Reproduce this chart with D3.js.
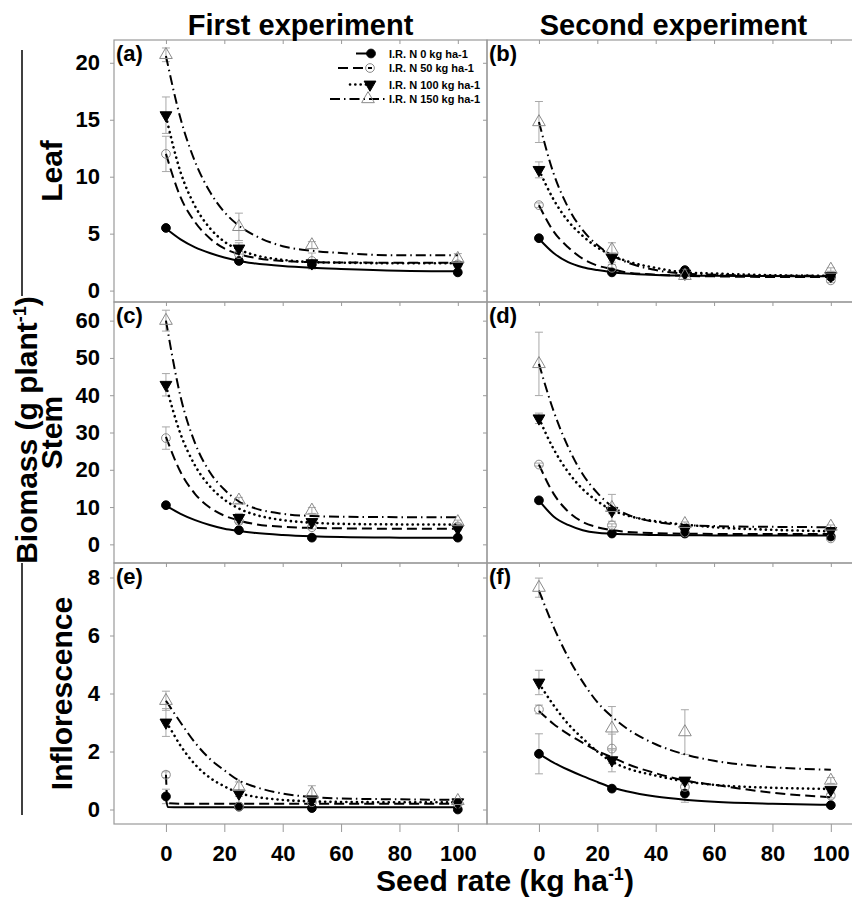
<!DOCTYPE html>
<html>
<head>
<meta charset="utf-8">
<script src="https://cdnjs.cloudflare.com/ajax/libs/d3/7.8.5/d3.min.js"></script>
<style>
body{margin:0;background:#fff}
svg text{font-family:"Liberation Sans",Arial,sans-serif;font-weight:bold;fill:#000}
</style>
</head>
<body>
<svg id="chart" width="852" height="898"></svg>
<script>
// ---- data ----
const seedRate = [0, 25, 50, 100];
const curveX = [0, 5, 10, 15, 20, 25, 30, 40, 50, 60, 80, 100];
const curveXSteep = [0, 0.6, 5, 10, 15, 20, 25, 30, 40, 50, 60, 80, 100];
const seriesNames = ["I.R. N 0 kg ha-1", "I.R. N 50 kg ha-1", "I.R. N 100 kg ha-1", "I.R. N 150 kg ha-1"];
const xTicks = [0, 20, 40, 60, 80, 100];
const leafTicks = [0, 5, 10, 15, 20];
const stemTicks = [0, 10, 20, 30, 40, 50, 60];
const infloTicks = [0, 2, 4, 6, 8];
const colTitles = ["First experiment", "Second experiment"];
const rowTitles = ["Leaf", "Stem", "Inflorescence"];
const panelLetters = ["(a)", "(b)", "(c)", "(d)", "(e)", "(f)"];

// (a) leaf, first experiment   rows: N0, N50, N100, N150
const leaf1Mean = [[5.5, 2.6, 2.3, 1.6], [12.0, 3.2, 2.6, 2.3], [15.4, 3.7, 2.4, 2.2], [20.7, 5.6, 4.0, 2.8]];
const leaf1Err = [[0.15, 0.15, 0.3, 0.15], [1.55, 0.3, 0.7, 0.2], [1.6, 0.5, 0.3, 0.2], [0.6, 1.2, 0.3, 0.45]];
const leaf1Fit = [
  [5.45, 4.5, 3.8, 3.3, 2.9, 2.6, 2.4, 2.15, 2.0, 1.9, 1.75, 1.7],
  [12.0, 8.2, 6.0, 4.6, 3.7, 3.2, 2.9, 2.6, 2.5, 2.47, 2.45, 2.45],
  [15.3, 10.4, 7.4, 5.5, 4.3, 3.6, 3.15, 2.7, 2.5, 2.45, 2.4, 2.4],
  [20.6, 15.1, 11.3, 8.7, 6.9, 5.7, 4.9, 3.9, 3.5, 3.3, 3.1, 3.1]];

// (b) leaf, second experiment
const leaf2Mean = [[4.6, 1.6, 1.8, 1.2], [7.5, 2.0, 1.5, 0.9], [10.6, 2.9, 1.5, 1.3], [14.8, 3.6, 1.3, 1.85]];
const leaf2Err = [[0.15, 0.1, 0.15, 0.1], [0.2, 0.3, 0.2, 0.2], [0.7, 0.4, 0.2, 0.1], [1.8, 0.6, 0.3, 0.15]];
const leaf2Fit = [
  [4.55, 3.3, 2.5, 2.05, 1.8, 1.62, 1.5, 1.38, 1.32, 1.3, 1.28, 1.25],
  [7.5, 5.2, 3.8, 2.8, 2.2, 1.9, 1.6, 1.4, 1.3, 1.25, 1.2, 1.2],
  [10.6, 8.0, 6.1, 4.8, 3.8, 3.1, 2.6, 2.0, 1.6, 1.5, 1.35, 1.3],
  [14.8, 10.3, 7.3, 5.3, 4.0, 3.1, 2.5, 1.8, 1.5, 1.4, 1.3, 1.3]];

// (c) stem, first experiment
const stem1Mean = [[10.5, 3.8, 1.8, 1.8], [28.5, 6.3, 4.6, 4.8], [42.8, 7.1, 6.0, 4.2], [60.0, 11.8, 9.1, 6.0]];
const stem1Err = [[0.3, 0.3, 0.2, 0.2], [3.0, 0.8, 0.5, 0.5], [3.0, 1.2, 0.6, 0.4], [2.8, 0.8, 0.8, 0.5]];
const stem1Fit = [
  [10.4, 8.2, 6.5, 5.2, 4.2, 3.6, 3.1, 2.5, 2.15, 1.95, 1.8, 1.75],
  [28.8, 19.4, 13.5, 9.9, 7.7, 6.4, 5.5, 4.7, 4.4, 4.3, 4.2, 4.2],
  [42.6, 29.6, 21.1, 15.6, 12.0, 9.6, 8.1, 6.5, 5.8, 5.5, 5.35, 5.3],
  [60.0, 39.6, 27.1, 19.4, 14.7, 11.5, 9.8, 8.2, 7.6, 7.4, 7.3, 7.3]];

// (d) stem, second experiment
const stem2Mean = [[11.8, 2.9, 2.9, 2.1], [21.4, 5.1, 3.2, 1.6], [33.8, 9.0, 3.9, 3.6], [48.4, 9.8, 5.5, 4.8]];
const stem2Err = [[0.6, 0.2, 0.2, 0.2], [0.4, 0.4, 0.3, 0.3], [1.4, 0.8, 0.4, 0.4], [8.5, 3.6, 0.5, 0.4]];
const stem2Fit = [
  [11.8, 7.5, 5.2, 3.8, 3.1, 2.85, 2.7, 2.5, 2.45, 2.4, 2.4, 2.4],
  [21.4, 13.6, 8.8, 6.0, 4.6, 3.8, 3.35, 3.0, 2.85, 2.8, 2.75, 2.75],
  [33.8, 25.6, 19.4, 14.8, 11.6, 9.2, 7.8, 6.2, 5.3, 4.6, 3.9, 3.5],
  [48.4, 35.8, 26.1, 18.8, 13.8, 10.2, 8.1, 6.0, 5.2, 4.9, 4.7, 4.6]];

// (e) inflorescence, first experiment (fits on curveXSteep)
const inflo1Mean = [[0.45, 0.1, 0.05, 0.0], [1.2, 0.1, 0.25, 0.2], [3.0, 0.55, 0.35, 0.25], [3.75, 0.78, 0.55, 0.3]];
const inflo1Err = [[0.25, 0.05, 0.05, 0.05], [0.1, 0.05, 0.1, 0.05], [0.48, 0.1, 0.1, 0.05], [0.33, 0.17, 0.27, 0.05]];
const inflo1Fit = [
  [0.43, 0.09, 0.08, 0.08, 0.08, 0.08, 0.08, 0.08, 0.08, 0.08, 0.08, 0.08, 0.08],
  [1.2, 0.22, 0.2, 0.2, 0.2, 0.2, 0.2, 0.2, 0.2, 0.2, 0.2, 0.2, 0.2],
  [3.0, 2.92, 2.2, 1.55, 1.1, 0.8, 0.57, 0.45, 0.33, 0.28, 0.26, 0.25, 0.25],
  [3.75, 3.66, 3.0, 2.3, 1.75, 1.35, 1.0, 0.8, 0.55, 0.43, 0.38, 0.35, 0.33]];

// (f) inflorescence, second experiment
const inflo2Mean = [[1.92, 0.72, 0.55, 0.15], [3.45, 2.1, 0.78, 0.48], [4.38, 1.7, 1.0, 0.68], [7.65, 2.8, 2.67, 1.0]];
const inflo2Err = [[0.69, 0.08, 0.3, 0.05], [0.15, 0.5, 0.15, 0.08], [0.42, 0.4, 0.1, 0.08], [0.33, 0.75, 0.77, 0.1]];
const inflo2Fit = [
  [1.92, 1.62, 1.37, 1.15, 0.95, 0.76, 0.63, 0.45, 0.34, 0.27, 0.2, 0.16],
  [3.4, 2.95, 2.6, 2.3, 2.02, 1.8, 1.58, 1.25, 1.0, 0.85, 0.58, 0.42],
  [4.35, 3.6, 2.95, 2.45, 2.0, 1.65, 1.43, 1.17, 0.97, 0.85, 0.75, 0.71],
  [7.55, 6.3, 5.25, 4.4, 3.7, 3.2, 2.8, 2.25, 1.9, 1.68, 1.46, 1.37]];

// ---- layout ----
const colX = [[114, 487], [487, 860]];
const rowY = [[40, 302], [302, 563], [563, 824]];
const xDomain = [-17.8, 110];
const yDomains = [[-1, 22], [-5, 65], [-0.5, 8.5]];
const yTickSets = [leafTicks, stemTicks, infloTicks];
const axisGrey = "#9a9a9a";

const panels = [
  {r: 0, c: 0, mean: leaf1Mean, err: leaf1Err, fit: leaf1Fit, fx: curveX},
  {r: 0, c: 1, mean: leaf2Mean, err: leaf2Err, fit: leaf2Fit, fx: curveX},
  {r: 1, c: 0, mean: stem1Mean, err: stem1Err, fit: stem1Fit, fx: curveX},
  {r: 1, c: 1, mean: stem2Mean, err: stem2Err, fit: stem2Fit, fx: curveX},
  {r: 2, c: 0, mean: inflo1Mean, err: inflo1Err, fit: inflo1Fit, fx: curveXSteep},
  {r: 2, c: 1, mean: inflo2Mean, err: inflo2Err, fit: inflo2Fit, fx: curveX}
];

// line style per series
const dashes = [null, "10,5", "0.1,5.2", "10,4,1.5,4"];
const widths = [2, 2, 2.6, 2];
const caps = ["butt", "butt", "round", "butt"];

const svg = d3.select("#chart");
svg.append("rect").attr("width", 852).attr("height", 898).attr("fill", "#fff");

function marker(sel, k) {
  if (k === 0) {
    sel.attr("d", d3.symbol(d3.symbolCircle, 60)()).attr("fill", "#000").attr("stroke", "#000");
  } else if (k === 1) {
    sel.attr("d", d3.symbol(d3.symbolCircle, 60)()).attr("fill", "none").attr("stroke", "#8a8a8a").attr("stroke-width", 1);
  } else if (k === 2) {
    sel.attr("d", d3.symbol(d3.symbolTriangle, 60)()).attr("fill", "#000").attr("stroke", "#000");
  } else {
    sel.attr("d", d3.symbol(d3.symbolTriangle, 70)()).attr("fill", "none").attr("stroke", "#8a8a8a").attr("stroke-width", 1);
  }
}

panels.forEach((p, i) => {
  const x = d3.scaleLinear().domain(xDomain).range(colX[p.c]);
  const y = d3.scaleLinear().domain(yDomains[p.r]).range([rowY[p.r][1], rowY[p.r][0]]);
  const g = svg.append("g");

  // frame
  g.append("rect").attr("x", colX[p.c][0]).attr("y", rowY[p.r][0])
    .attr("width", colX[p.c][1] - colX[p.c][0]).attr("height", rowY[p.r][1] - rowY[p.r][0])
    .attr("fill", "none").attr("stroke", axisGrey).attr("stroke-width", 1.2);

  // y axis
  const ya = g.append("g").attr("transform", `translate(${colX[p.c][0]},0)`)
    .call(d3.axisLeft(y).tickValues(yTickSets[p.r]).tickSize(4).tickPadding(10)
      .tickFormat(p.c === 0 ? d3.format("d") : () => ""));
  ya.select(".domain").remove();
  ya.selectAll("line").attr("stroke", axisGrey);
  ya.selectAll("text").style("font-size", "22px").attr("fill", "#000");

  // top ticks (inward)
  const ta = g.append("g").attr("transform", `translate(0,${rowY[p.r][0]})`)
    .call(d3.axisBottom(x).tickValues(xTicks).tickSize(4).tickFormat(""));
  ta.select(".domain").remove();
  ta.selectAll("line").attr("stroke", axisGrey);

  // bottom axis with labels on the last row
  if (p.r === 2) {
    const ba = g.append("g").attr("transform", `translate(0,${rowY[p.r][1]})`)
      .call(d3.axisBottom(x).tickValues(xTicks).tickSize(8).tickPadding(13));
    ba.select(".domain").remove();
    ba.selectAll("line").attr("stroke", axisGrey);
    ba.selectAll("text").style("font-size", "22px").attr("fill", "#000");
  }

  // error bars
  p.err.forEach((errs, k) => {
    errs.forEach((e, j) => {
      const cx = x(seedRate[j]);
      const m = p.mean[k][j];
      const eg = g.append("g").attr("stroke", "#a8a8a8").attr("stroke-width", 1);
      eg.append("line").attr("x1", cx).attr("x2", cx).attr("y1", y(m - e)).attr("y2", y(m + e));
      eg.append("line").attr("x1", cx - 4).attr("x2", cx + 4).attr("y1", y(m - e)).attr("y2", y(m - e));
      eg.append("line").attr("x1", cx - 4).attr("x2", cx + 4).attr("y1", y(m + e)).attr("y2", y(m + e));
    });
  });

  // fitted curves
  const line = d3.line().x(d => x(d[0])).y(d => y(d[1])).curve(d3.curveMonotoneX);
  p.fit.forEach((vals, k) => {
    g.append("path").datum(vals.map((v, j) => [p.fx[j], v]))
      .attr("d", line).attr("fill", "none").attr("stroke", "#000")
      .attr("stroke-width", widths[k]).attr("stroke-dasharray", dashes[k])
      .attr("stroke-linecap", caps[k]);
  });

  // markers
  p.mean.forEach((vals, k) => {
    vals.forEach((v, j) => {
      const rot = k === 2 ? 180 : 0;
      g.append("path").call(marker, k)
        .attr("transform", `translate(${x(seedRate[j])},${y(v)}) rotate(${rot})`);
    });
  });

  // panel letter
  g.append("text").attr("x", colX[p.c][0] + 2).attr("y", rowY[p.r][0] + 21)
    .style("font-size", "22px").text(panelLetters[i]);
});

// legend inside (a)
const legRows = [53.5, 68, 84.5, 99];
const legLineStart = [356, 338, 350, 330];
const legLineEnd = [372, 372, 370, 386];
const legMarkX = [371, 370, 370, 368];
seriesNames.forEach((name, k) => {
  const yy = legRows[k];
  svg.append("line").attr("x1", legLineStart[k]).attr("x2", legLineEnd[k]).attr("y1", yy).attr("y2", yy)
    .attr("stroke", "#000").attr("stroke-width", widths[k]).attr("stroke-dasharray", dashes[k])
    .attr("stroke-linecap", caps[k]);
  svg.append("path").call(marker, k)
    .attr("transform", `translate(${legMarkX[k]},${yy}) rotate(${k === 2 ? 180 : 0})`);
  svg.append("text").attr("x", 389).attr("y", yy + 4).style("font-size", "11px").text(name);
});

// column titles
colTitles.forEach((t, c) => {
  svg.append("text").attr("x", (colX[c][0] + colX[c][1]) / 2).attr("y", 35)
    .attr("text-anchor", "middle").style("font-size", "29px").text(t);
});

// row titles
const rowTitleX = [62, 62, 72];
rowTitles.forEach((t, r) => {
  const cy = (rowY[r][0] + rowY[r][1]) / 2;
  svg.append("text").attr("transform", `translate(${rowTitleX[r]},${cy}) rotate(-90)`)
    .attr("text-anchor", "middle").style("font-size", "30px").text(t);
});

// common y label with bracket lines
const yl = svg.append("text").attr("transform", "translate(37,430) rotate(-90)")
  .attr("text-anchor", "middle").style("font-size", "30px");
yl.append("tspan").text("Biomass (g plant");
yl.append("tspan").attr("dy", -11).style("font-size", "18px").text("-1");
yl.append("tspan").attr("dy", 11).text(")");
svg.append("line").attr("x1", 22).attr("x2", 22).attr("y1", 50).attr("y2", 296).attr("stroke", "#000").attr("stroke-width", 1.5);
svg.append("line").attr("x1", 22).attr("x2", 22).attr("y1", 563).attr("y2", 815).attr("stroke", "#000").attr("stroke-width", 1.5);

// x label
const xl = svg.append("text").attr("x", 505).attr("y", 891).attr("text-anchor", "middle").style("font-size", "30px");
xl.append("tspan").text("Seed rate (kg ha");
xl.append("tspan").attr("dy", -11).style("font-size", "18px").text("-1");
xl.append("tspan").attr("dy", 11).text(")");
</script>
</body>
</html>
